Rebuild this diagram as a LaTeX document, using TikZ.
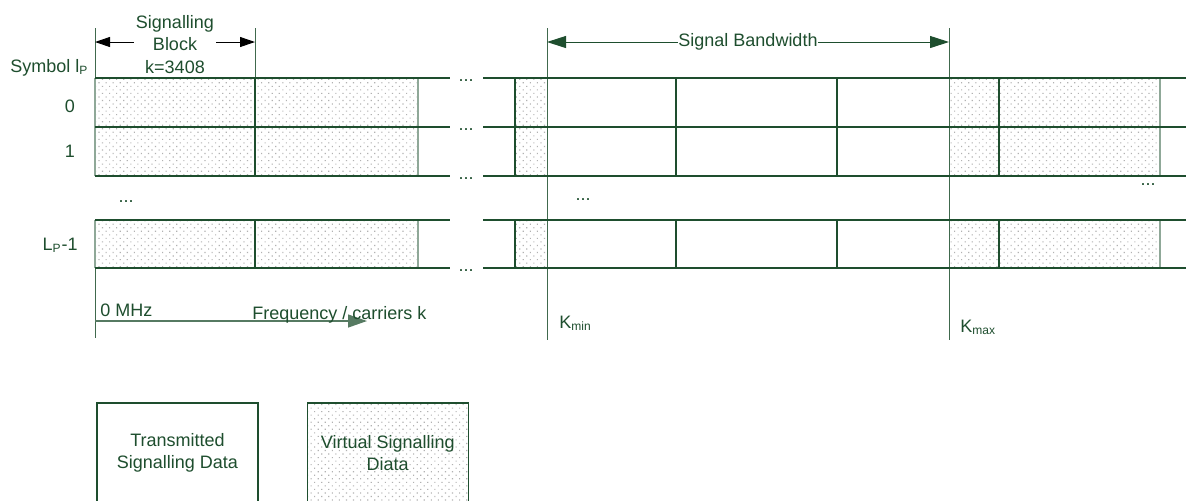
\documentclass[tikz,border=0pt]{standalone}
\usepackage{fontspec}
\setmainfont{Liberation Sans}
\usepackage{tikz}
\usetikzlibrary{arrows.meta,patterns.meta,positioning,calc}
\definecolor{pine}{HTML}{1E4E2E}
\definecolor{pinelight}{HTML}{8FA898}
\definecolor{dotgray}{HTML}{B2B2B2}
\tikzset{
  lbl/.style={text=pine, font=\fontsize{9}{11.25}\selectfont, inner sep=0pt},
  blocklbl/.style={lbl, fill=white, align=center, inner sep=1pt},
  rowline/.style={draw=pine, line width=0.7pt},
  cellline/.style={draw=pine, line width=0.6pt},
  edgeline/.style={draw=pinelight, line width=0.6pt},
  markline/.style={draw=pine!85, line width=0.5pt},
  shadecell/.style={pattern={Dots[distance=2.5pt,radius=0.4pt,angle=45]},
    pattern color=dotgray},
  blockarrow/.style={{Triangle[length=7.5pt,width=5pt]}-{Triangle[length=7.5pt,width=5pt]},
    line width=0.5pt, black},
  bwarrow/.style={{Triangle[length=9.5pt,width=6pt]}-{Triangle[length=9.5pt,width=6pt]},
    line width=0.5pt, pine},
  freqarrow/.style={-{Triangle[length=9.5pt,width=6.5pt]}, line width=0.6pt,
    draw=pine!75, fill=pine},
  legendbox/.style={rectangle, draw=pine, line width=0.6pt, text=pine,
    font=\fontsize{9}{11}\selectfont, align=center,
    minimum width=80.5pt, minimum height=50pt, inner sep=2pt},
}

\begin{document}
\begin{tikzpicture}[x=0.5pt, y=-0.5pt]
  \useasboundingbox[fill=white] (0,0) rectangle (1186,500);

  % marker lines
  \coordinate (sbl) at (95,42);
  \coordinate (sbr) at (255,42);
  \coordinate (kmin) at (547,42);
  \coordinate (kmax) at (949,42);
  \draw[markline] (95,28) -- (95,78);
  \draw[markline] (255,28) -- (255,78);
  \draw[markline] (547,28) -- (547,340);
  \draw[markline] (949,28) -- (949,340);
  \draw[markline] (95,268) -- (95,338);

  % signalling rows
  \foreach \t/\b in {78/127,127/176,220/268}{
    \fill[shadecell] (95,\t) rectangle (255,\b);
    \fill[shadecell] (255,\t) rectangle (418,\b);
    \fill[shadecell] (515,\t) rectangle (546,\b);
    \fill[shadecell] (950,\t) rectangle (999,\b);
    \fill[shadecell] (999,\t) rectangle (1160,\b);
    \foreach \x in {95,418,1160}
      \draw[edgeline] (\x,\t) -- (\x,\b);
    \foreach \x in {255,515,676,837,999}
      \draw[cellline] (\x,\t) -- (\x,\b);
  }
  \foreach \y in {78,127,176,220,268}{
    \draw[rowline] (95,\y) -- (450,\y);
    \draw[rowline] (483,\y) -- (1186,\y);
  }
  \foreach \y [count=\i] in {78,127,176,268}
    \node[lbl, anchor=base] (gap\i) at (466,\y+3.5) {...};

  % arrows
  \draw[blockarrow] (sbl) -- (sbr);
  \node[blocklbl] (sblock) at (175,44.5) {Signalling\\Block\\k=3408};
  \draw[bwarrow] (kmin) -- (kmax);
  \node[lbl, fill=white, inner sep=0.3pt] (bw) at ($(kmin)!0.5!(kmax)$) {Signal Bandwidth};
  \coordinate (f0) at (95,321);
  \coordinate (f1) at (367,321);
  \draw[freqarrow] (f0) -- (f1);

  % labels
  \node[lbl, anchor=base west] (symbol) at (10,72.5) {Symbol l\textsubscript{P}};
  \node[lbl] (row0) at (70,106) {0};
  \node[lbl] (row1) at (70,151) {1};
  \node[lbl, anchor=base east] (rowlast) at (78,250) {L\textsubscript{P}-1};
  \node[lbl, anchor=base] (vdots1) at (126,202) {...};
  \node[lbl, anchor=base] (vdots2) at (583,200.5) {...};
  \node[lbl, anchor=base] (vdots3) at (1148,185) {...};
  \node[lbl, anchor=base west] (zero) at (100,316) {0 MHz};
  \node[lbl, anchor=base west] (freq) at (252,319) {Frequency / carriers k};
  \node[lbl, anchor=base west] (kminlbl) at (559,328) {K\textsubscript{min}};
  \node[lbl, anchor=base west] (kmaxlbl) at (960,332) {K\textsubscript{max}};

  % legend
  \node[legendbox] (txbox) at (177.5,453) {Transmitted\\Signalling Data};
  \node[legendbox, shadecell, right=24pt of txbox] (vsbox) {Virtual Signalling\\Diata};
\end{tikzpicture}
\end{document}
